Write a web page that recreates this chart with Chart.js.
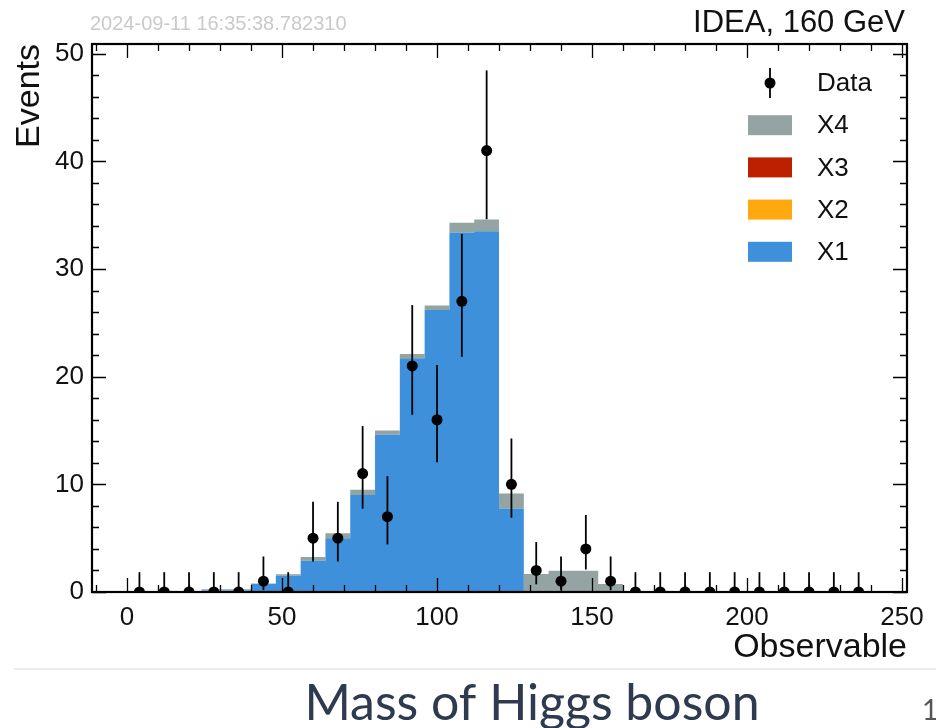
<!DOCTYPE html>
<html>
<head>
<meta charset="utf-8">
<script src="https://cdn.jsdelivr.net/npm/chart.js@4"></script>
<style>
  html, body { margin: 0; padding: 0; background: #fff; }
  #wrap { position: relative; width: 936px; height: 728px; }
</style>
</head>
<body>
<div id="wrap"><canvas id="histCanvas" width="936" height="728"></canvas></div>
<script>
// histogram binning (30 bins of width 8)
const binEdges = [0, 8, 16, 24, 32, 40, 48, 56, 64, 72, 80, 88, 96, 104, 112, 120,
                  128, 136, 144, 152, 160, 168, 176, 184, 192, 200, 208, 216, 224, 232, 240];

// observed events and their error bar bounds
const dataCounts = [0, 0, 0, 0, 0, 1, 0, 5, 5, 11, 7, 21, 16, 27, 41, 10, 2, 1, 4, 1,
                    0, 0, 0, 0, 0, 0, 0, 0, 0, 0];
const dataLow  = [0, 0, 0, 0, 0, 0.17, 0, 2.84, 2.84, 7.74, 4.42, 16.46, 12.05, 21.84, 34.63, 6.90, 0.71, 0.17, 2.09, 0.17,
                  0, 0, 0, 0, 0, 0, 0, 0, 0, 0];
const dataHigh = [1.84, 1.84, 1.84, 1.84, 1.84, 3.30, 1.84, 8.38, 8.38, 15.41, 10.76, 26.65, 21.08, 33.26, 48.45, 14.26, 4.64, 3.30, 7.16, 3.30,
                  1.84, 1.84, 1.84, 1.84, 1.84, 1.84, 1.84, 1.84, 1.84, 1.84];

// stacked simulation
const x1Vals = [0, 0, 0, 0.15, 0.15, 0.75, 1.5, 2.9, 5.0, 9.0, 14.6, 21.7, 26.2, 33.4, 33.5, 7.75, 0, 0, 0, 0,
                0, 0, 0, 0, 0, 0, 0, 0, 0, 0];
const x2Vals = [0, 0, 0, 0, 0, 0, 0, 0, 0, 0, 0, 0, 0, 0, 0, 0, 0, 0, 0, 0,
                0, 0, 0, 0, 0, 0, 0, 0, 0, 0];
const x3Vals = [0, 0, 0, 0, 0, 0, 0, 0, 0, 0, 0, 0, 0, 0, 0, 0, 0, 0, 0, 0,
                0, 0, 0, 0, 0, 0, 0, 0, 0, 0];
const x4Vals = [0, 0, 0, 0.1, 0.1, 0.05, 0.15, 0.35, 0.45, 0.5, 0.4, 0.4, 0.4, 0.9, 1.1, 1.4, 1.67, 1.97, 1.97, 0.74,
                0, 0, 0, 0, 0, 0, 0, 0, 0, 0];

const xTicks = [0, 50, 100, 150, 200, 250];
const yTicks = [0, 10, 20, 30, 40, 50];

const colors = { X1: '#3f90da', X2: '#ffa90e', X3: '#bd1f01', X4: '#94a4a2' };
const FONT = "'Liberation Sans', Arial, Helvetica, sans-serif";

const binCenters = dataCounts.map((_, i) => (binEdges[i] + binEdges[i + 1]) / 2);
const stepPoints = vals => binEdges.map((e, i) => ({ x: e, y: vals[Math.min(i, vals.length - 1)] }));

function stackSet(label, vals, fill) {
    return {
        label: label,
        data: stepPoints(vals),
        stepped: true,
        fill: fill,
        backgroundColor: colors[label],
        borderColor: 'rgba(0,0,0,0)',
        borderWidth: 1,
        pointRadius: 0,
        pointHoverRadius: 0,
        stack: 'mc',
        clip: 0
    };
}

// error bars under the data markers
const errorBars = {
    id: 'errorBars',
    beforeDatasetDraw(chart, args) {
        if (args.index !== 0) return;
        const { ctx, scales: { x, y }, chartArea } = chart;
        ctx.save();
        ctx.beginPath();
        ctx.rect(chartArea.left, chartArea.top, chartArea.width, chartArea.height);
        ctx.clip();
        ctx.strokeStyle = '#000';
        ctx.lineWidth = 1.8;
        binCenters.forEach((c, i) => {
            const px = x.getPixelForValue(c);
            ctx.beginPath();
            ctx.moveTo(px, y.getPixelForValue(dataLow[i]));
            ctx.lineTo(px, y.getPixelForValue(dataHigh[i]));
            ctx.stroke();
        });
        ctx.restore();
    }
};

// frame with inward ticks on all sides
const frameTicks = {
    id: 'frameTicks',
    afterDraw(chart) {
        const { ctx, scales: { x, y }, chartArea: a } = chart;
        ctx.save();
        ctx.strokeStyle = '#000';
        ctx.lineWidth = 1.3;
        const majL = 14, minL = 7;
        for (let v = -10; v <= 250; v += 10) {
            const px = Math.round(x.getPixelForValue(v)) + 0.5;
            const len = v % 50 === 0 ? majL : minL;
            ctx.beginPath();
            ctx.moveTo(px, a.bottom); ctx.lineTo(px, a.bottom - len);
            ctx.moveTo(px, a.top); ctx.lineTo(px, a.top + len);
            ctx.stroke();
        }
        for (let v = 0; v <= 50; v += 2) {
            const py = Math.round(y.getPixelForValue(v)) + 0.5;
            const len = v % 10 === 0 ? majL : minL;
            ctx.beginPath();
            ctx.moveTo(a.left, py); ctx.lineTo(a.left + len, py);
            ctx.moveTo(a.right, py); ctx.lineTo(a.right - len, py);
            ctx.stroke();
        }
        ctx.lineWidth = 2.2;
        ctx.strokeRect(a.left, a.top, a.right - a.left, a.bottom - a.top);
        ctx.restore();
    }
};

// legend, labels and slide caption
const decorations = {
    id: 'decorations',
    afterDraw(chart) {
        const ctx = chart.ctx;
        ctx.save();
        // legend
        const rows = ['Data', 'X4', 'X3', 'X2', 'X1'];
        ctx.font = '26px ' + FONT;
        ctx.textBaseline = 'middle';
        ctx.textAlign = 'left';
        rows.forEach((name, i) => {
            const cy = 83 + i * 42.2;
            if (name === 'Data') {
                ctx.strokeStyle = '#000';
                ctx.lineWidth = 1.8;
                ctx.beginPath();
                ctx.moveTo(770, cy - 15); ctx.lineTo(770, cy + 15);
                ctx.stroke();
                ctx.fillStyle = '#000';
                ctx.beginPath();
                ctx.arc(770, cy, 5.5, 0, Math.PI * 2);
                ctx.fill();
            } else {
                ctx.fillStyle = colors[name];
                ctx.fillRect(748, cy - 10, 44, 20);
            }
            ctx.fillStyle = '#111';
            ctx.fillText(name, 817, cy + 1);
        });

        // experiment label and timestamp
        ctx.textBaseline = 'alphabetic';
        ctx.textAlign = 'right';
        ctx.fillStyle = '#111';
        ctx.font = '31px ' + FONT;
        ctx.fillText('IDEA, 160 GeV', 905, 32);
        ctx.textAlign = 'left';
        ctx.fillStyle = '#cacaca';
        ctx.font = '20px ' + FONT;
        ctx.fillText('2024-09-11 16:35:38.782310', 90, 30);

        // slide separator and caption
        ctx.strokeStyle = '#ececec';
        ctx.lineWidth = 2;
        ctx.beginPath();
        ctx.moveTo(14, 669); ctx.lineTo(936, 669);
        ctx.stroke();
        ctx.fillStyle = '#2d3a4f';
        ctx.textAlign = 'center';
        ctx.font = '50px Lato, sans-serif';
        ctx.fillText('Mass of Higgs boson', 532, 720);
        ctx.fillStyle = '#555';
        ctx.textAlign = 'left';
        ctx.font = '28px Lato, sans-serif';
        ctx.fillText('1', 922, 720);
        ctx.restore();
    }
};

const histCtx = document.getElementById('histCanvas').getContext('2d');
const histChart = new Chart(histCtx, {
    type: 'line',
    data: {
        datasets: [
            {
                label: 'Data',
                data: binCenters.map((c, i) => ({ x: c, y: dataCounts[i] })),
                showLine: false,
                pointRadius: 5.5,
                pointHoverRadius: 5.5,
                pointBackgroundColor: '#000',
                pointBorderWidth: 0,
                stack: 'data',
                clip: 0
            },
            stackSet('X1', x1Vals, 'origin'),
            stackSet('X2', x2Vals, '-1'),
            stackSet('X3', x3Vals, '-1'),
            stackSet('X4', x4Vals, '-1')
        ]
    },
    options: {
        responsive: false,
        animation: false,
        events: [],
        layout: { padding: { left: 0, right: 29, top: 44, bottom: 60 } },
        plugins: {
            legend: { display: false },
            tooltip: { enabled: false }
        },
        scales: {
            x: {
                type: 'linear',
                min: -11.3,
                max: 251.6,
                afterBuildTicks: axis => { axis.ticks = xTicks.map(v => ({ value: v })); },
                afterFit: axis => { axis.height = 76; },
                grid: { display: false, drawTicks: false },
                border: { display: false },
                ticks: { padding: 10, autoSkip: false, maxRotation: 0, color: '#111', font: { size: 26, family: FONT } },
                title: { display: true, text: 'Observable', align: 'end', color: '#111',
                         font: { size: 34, family: FONT }, padding: { top: 0, bottom: 0 } }
            },
            y: {
                type: 'linear',
                stacked: true,
                min: 0,
                max: 50.9,
                afterBuildTicks: axis => { axis.ticks = yTicks.map(v => ({ value: v })); },
                afterFit: axis => { axis.width = 92; },
                grid: { display: false, drawTicks: false },
                border: { display: false },
                ticks: { padding: 8, autoSkip: false, color: '#111', font: { size: 26, family: FONT } },
                title: { display: true, text: 'Events', align: 'end', color: '#111',
                         font: { size: 34, family: FONT }, padding: { top: 9, bottom: 0 } }
            }
        }
    },
    plugins: [errorBars, frameTicks, decorations]
});
</script>
</body>
</html>
